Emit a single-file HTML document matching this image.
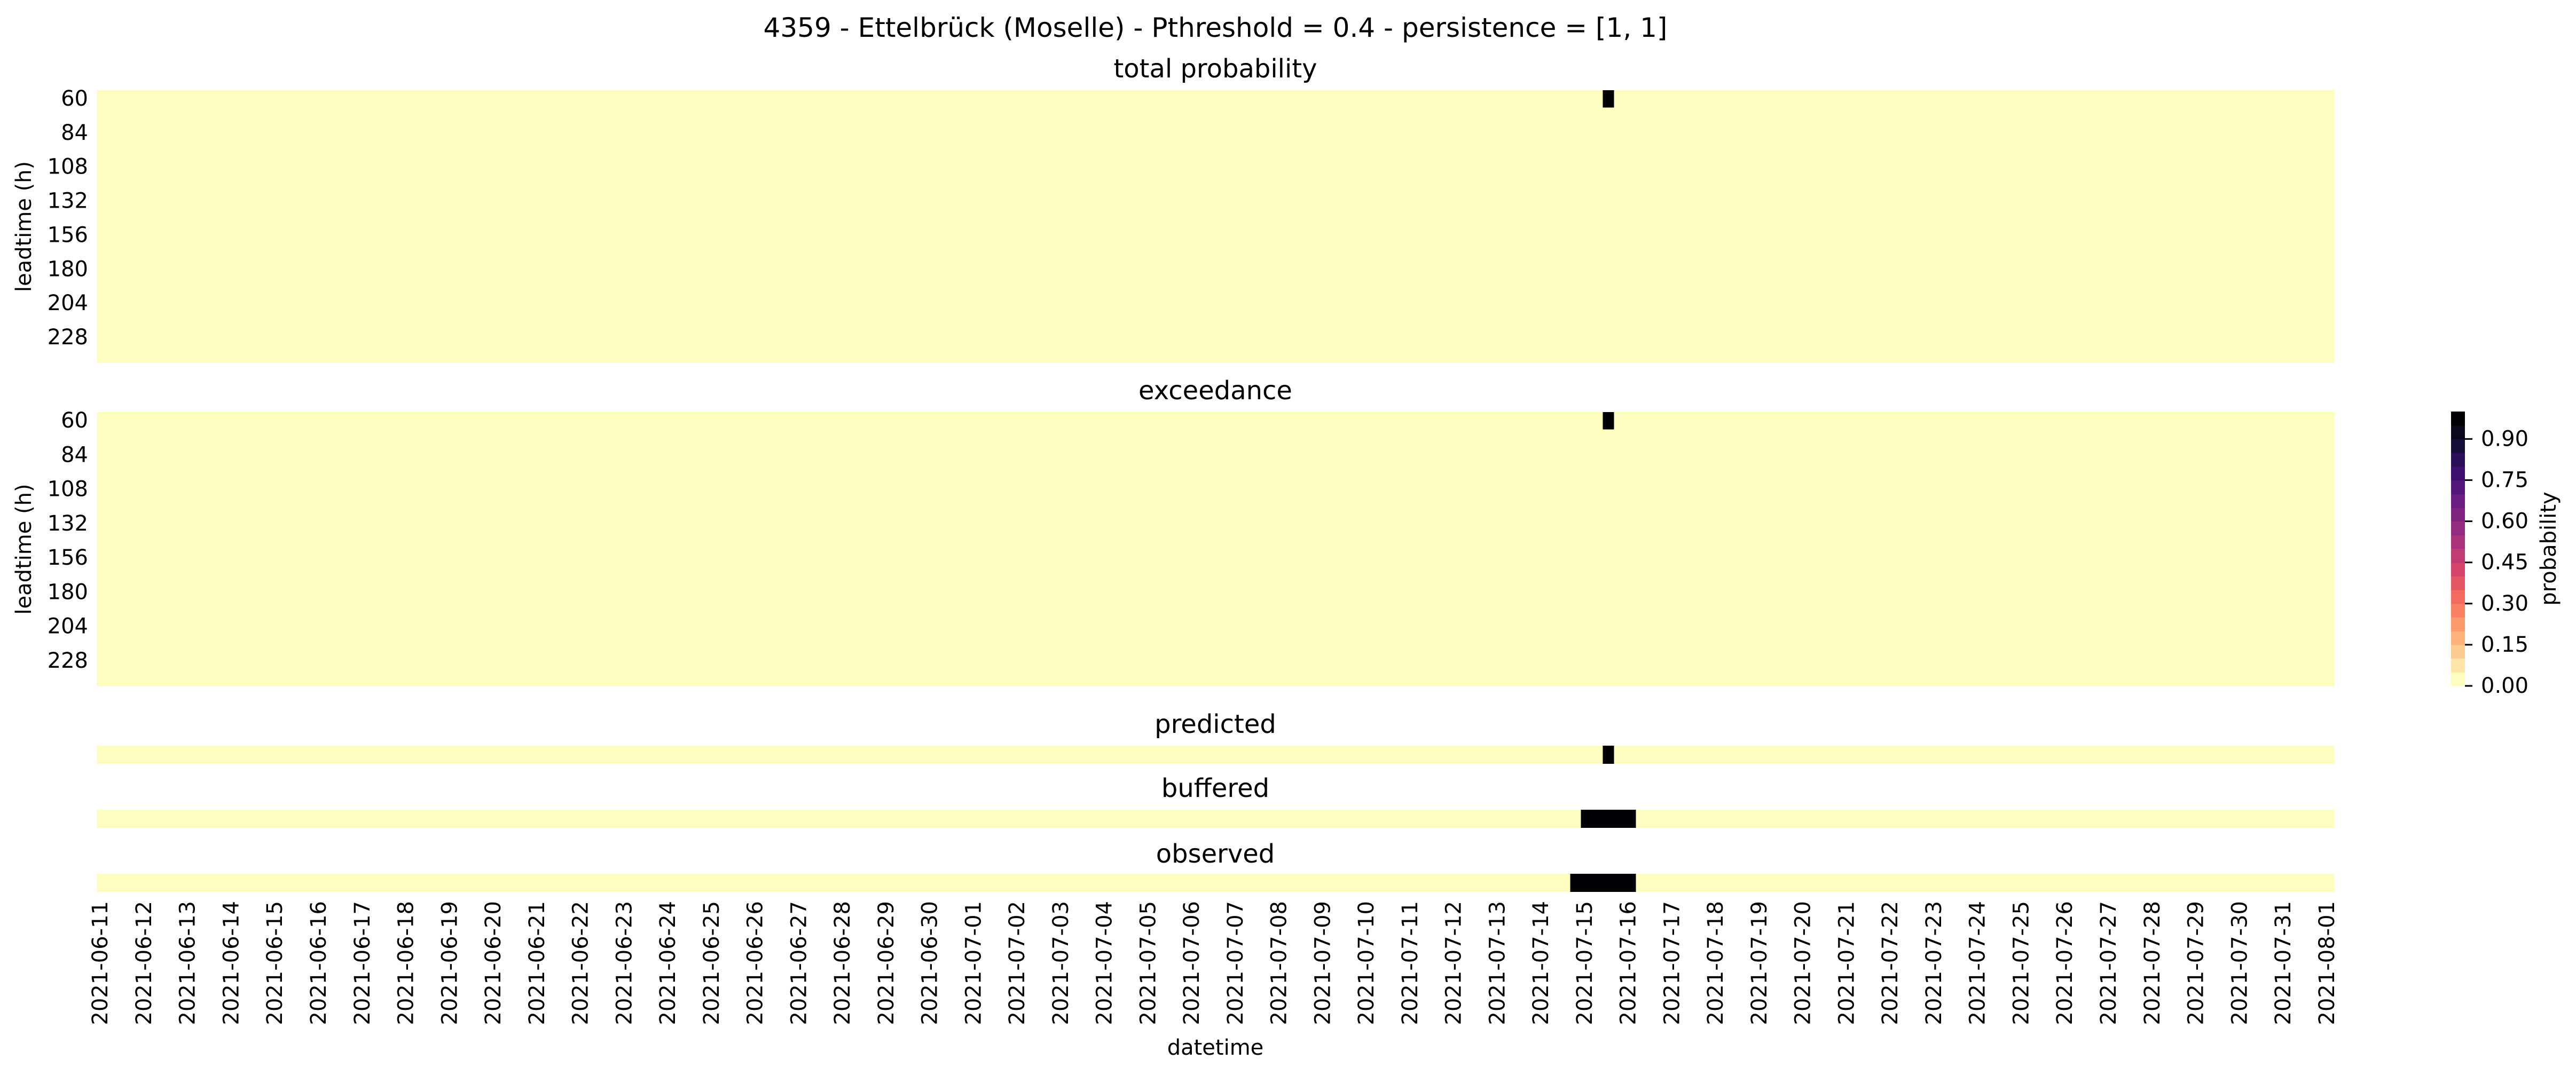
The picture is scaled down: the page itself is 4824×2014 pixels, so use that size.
<!DOCTYPE html>
<html><head><meta charset="utf-8"><style>
html,body{margin:0;padding:0;background:#fff;}
svg{display:block;font-family:"DejaVu Sans","Liberation Sans",sans-serif;}
rect{shape-rendering:crispEdges;}
</style></head><body>
<svg id="fig" xmlns="http://www.w3.org/2000/svg" width="4824" height="2014" viewBox="0 0 4824 2014">
<rect width="4824" height="2014" fill="#fff"/>
<text x="2276" y="52" text-anchor="middle" dominant-baseline="central" font-size="50">4359 - Ettelbrück (Moselle) - Pthreshold = 0.4 - persistence = [1, 1]</text>
</svg>
<script>
// ---- data ----
const startDate = '2021-06-11';
const stepsPerDay = 4;
const nTimes = 205;
const leadtimes = [60,72,84,96,108,120,132,144,156,168,180,192,204,216,228,240];
const leadTickLabels = ['60','84','108','132','156','180','204','228'];
const dateTickLabels = ['2021-06-11','2021-06-12','2021-06-13','2021-06-14','2021-06-15','2021-06-16','2021-06-17','2021-06-18','2021-06-19','2021-06-20','2021-06-21','2021-06-22','2021-06-23','2021-06-24','2021-06-25','2021-06-26','2021-06-27','2021-06-28','2021-06-29','2021-06-30','2021-07-01','2021-07-02','2021-07-03','2021-07-04','2021-07-05','2021-07-06','2021-07-07','2021-07-08','2021-07-09','2021-07-10','2021-07-11','2021-07-12','2021-07-13','2021-07-14','2021-07-15','2021-07-16','2021-07-17','2021-07-18','2021-07-19','2021-07-20','2021-07-21','2021-07-22','2021-07-23','2021-07-24','2021-07-25','2021-07-26','2021-07-27','2021-07-28','2021-07-29','2021-07-30','2021-07-31','2021-08-01'];
// non-zero cells: [datetime, leadtime, value]
const totalProbCells = [['2021-07-15 12:00', 60, 1.0]];
const exceedanceCells = [['2021-07-15 12:00', 60, 1.0]];
// non-zero cells: [datetime, value]
const predictedCells = [['2021-07-15 12:00', 1]];
const bufferedCells = [['2021-07-15 00:00',1],['2021-07-15 06:00',1],['2021-07-15 12:00',1],['2021-07-15 18:00',1],['2021-07-16 00:00',1]];
const observedCells = [['2021-07-14 18:00',1],['2021-07-15 00:00',1],['2021-07-15 06:00',1],['2021-07-15 12:00',1],['2021-07-15 18:00',1],['2021-07-16 00:00',1]];
const cbarTicks = [0.00,0.15,0.30,0.45,0.60,0.75,0.90];
const cbarLevels = 20;

// ---- layout / scales ----
const NS='http://www.w3.org/2000/svg';
const svg=document.getElementById('fig');
const X0=181, X1=4371;
const cw=(X1-X0)/nTimes;
const t0=Date.parse(startDate+'T00:00:00Z');
function timeIndex(s){return Math.round((Date.parse(s.replace(' ','T')+':00Z')-t0)/(6*3600e3));}
function xOf(idx){return X0+idx*cw;}
const magma=[[0,'#000004'],[0.1,'#140e36'],[0.2,'#3b0f70'],[0.3,'#641a80'],[0.4,'#8c2981'],[0.5,'#b73779'],[0.6,'#de4968'],[0.7,'#f7705c'],[0.8,'#fe9f6d'],[0.9,'#fecf92'],[1,'#fcfdbf']];
function hex(h){return [1,3,5].map(i=>parseInt(h.substr(i,2),16));}
function magmaAt(t){for(let i=1;i<magma.length;i++){if(t<=magma[i][0]){const a=magma[i-1],b=magma[i];const f=(t-a[0])/(b[0]-a[0]);const ca=hex(a[1]),cb=hex(b[1]);return 'rgb('+ca.map((v,k)=>Math.round(v+(cb[k]-v)*f)).join(',')+')';}}return magma[magma.length-1][1];}
function colorOf(p){let bin=Math.min(cbarLevels-1,Math.floor(p*cbarLevels));return magmaAt(1-bin/(cbarLevels-1));}
const BG=colorOf(0);
function el(tag,attrs,parent){const e=document.createElementNS(NS,tag);for(const k in attrs)e.setAttribute(k,attrs[k]);(parent||svg).appendChild(e);return e;}
function txt(s,attrs,parent){const e=el('text',attrs,parent);e.textContent=s;return e;}

function panel2d(name,title,titleY,y0,y1,cells){
  const g=el('g',{});
  
  
  const rh=(y1-y0)/leadtimes.length;
  const yOf=l=>y0+leadtimes.indexOf(l)*rh;
  const bg=el('rect',{x:X0,y:y0,width:X1-X0,height:y1-y0,fill:BG},g);
  
  
  cells.forEach(c=>{const i=timeIndex(c[0]);
    const r=el('rect',{x:xOf(i),y:yOf(c[1]),width:cw+0.6,height:rh+0.6,fill:colorOf(c[2])},g);
    
    });
  const t=txt(title,{x:(X0+X1)/2,y:titleY,'text-anchor':'middle','dominant-baseline':'central','font-size':48},g);
  
  
  leadTickLabels.forEach(l=>{const yc=yOf(+l)+rh/2;
    const tl=txt(l,{x:165,y:yc,'text-anchor':'end','dominant-baseline':'central','font-size':40},g);
    
    });
  const yl=txt('leadtime (h)',{x:0,y:0,transform:'translate(45,'+((y0+y1)/2)+') rotate(-90)','text-anchor':'middle','dominant-baseline':'central','font-size':40},g);
  
  
}
function panel1d(name,title,titleY,y0,y1,cells){
  const g=el('g',{});
  
  
  const bg=el('rect',{x:X0,y:y0,width:X1-X0,height:y1-y0,fill:BG},g);
  
  
  cells.forEach(c=>{const i=timeIndex(c[0]);
    const r=el('rect',{x:xOf(i),y:y0,width:cw+0.6,height:y1-y0,fill:colorOf(c[1])},g);
    
    });
  const t=txt(title,{x:(X0+X1)/2,y:titleY,'text-anchor':'middle','dominant-baseline':'central','font-size':48},g);
  
  
}
panel2d('total-probability','total probability',129,169,680,totalProbCells);
panel2d('exceedance','exceedance',732,772,1286,exceedanceCells);
panel1d('predicted','predicted',1357,1397,1431,predictedCells);
panel1d('buffered','buffered',1477,1517,1551,bufferedCells);
panel1d('observed','observed',1600,1637,1671,observedCells);

// x tick labels
dateTickLabels.forEach(d=>{const i=timeIndex(d+' 00:00');const xc=xOf(i)+cw/2-3;
  const t=txt(d,{x:0,y:0,transform:'translate('+xc+',1688) rotate(-90)','text-anchor':'end','dominant-baseline':'central','font-size':40});
  
  });
const xt=txt('datetime',{x:(X0+X1)/2,y:1963,'text-anchor':'middle','dominant-baseline':'central','font-size':40});



// colorbar
const CB={x:4590,w:26,y0:771,y1:1285};
const cg=el('g',{});


const lh=(CB.y1-CB.y0)/cbarLevels;
for(let k=0;k<cbarLevels;k++){
  const r=el('rect',{x:CB.x,y:CB.y1-(k+1)*lh,width:CB.w,height:lh+0.6,fill:colorOf((k+0.5)/cbarLevels)},cg);
  
  
}
cbarTicks.forEach(v=>{const y=CB.y1-v*(CB.y1-CB.y0);
  const l=el('line',{x1:CB.x+CB.w,x2:CB.x+CB.w+14,y1:y,y2:y,stroke:'#000','stroke-width':3},cg);
  
  
  const t=txt(v.toFixed(2),{x:4646,y:y,'dominant-baseline':'central','font-size':40},cg);
  
  });
const cl=txt('probability',{x:0,y:0,transform:'translate(4773,'+((CB.y0+CB.y1)/2)+') rotate(-90)','text-anchor':'middle','dominant-baseline':'central','font-size':40},cg);


</script>
</body></html>
